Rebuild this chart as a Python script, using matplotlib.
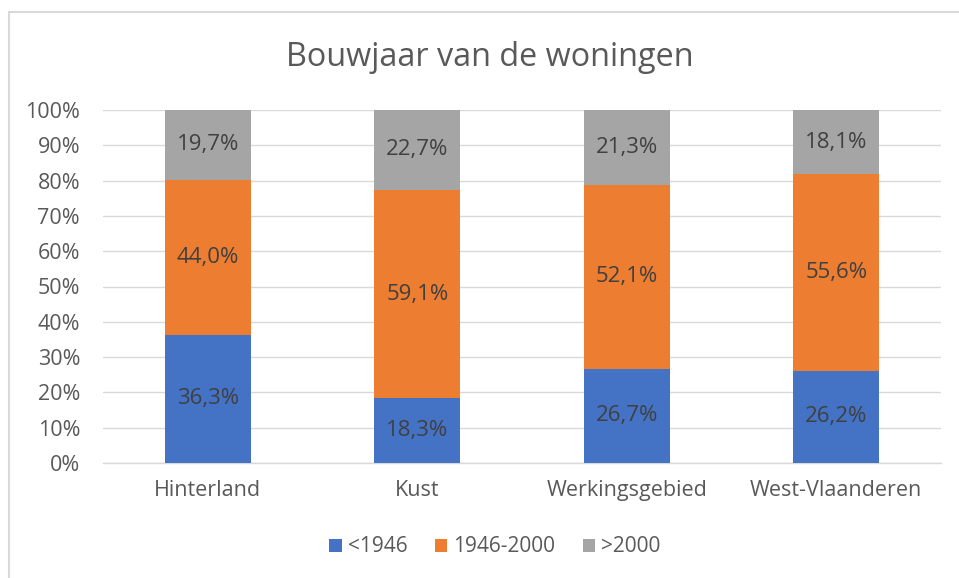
import matplotlib
matplotlib.use("Agg")
import matplotlib.pyplot as plt
from matplotlib.patches import Rectangle
from matplotlib.ticker import FuncFormatter

categories = ["Hinterland", "Kust", "Werkingsgebied", "West-Vlaanderen"]
series_names = ["<1946", "1946-2000", ">2000"]
pre1946 = [36.3, 18.3, 26.7, 26.2]
mid = [44.0, 59.1, 52.1, 55.6]
post2000 = [19.7, 22.7, 21.3, 18.1]
colors = ["#4472C4", "#ED7D31", "#A5A5A5"]

plt.rcParams['font.family'] = ['Open Sans', 'DejaVu Sans']
W, H = 959, 578
fig = plt.figure(figsize=(W/100, H/100), dpi=100)
fig.patches.append(Rectangle((8.5/W, -0.1), 1.2, 1 - 11.5/H + 0.1, transform=fig.transFigure,
                             fill=False, edgecolor="#D9D9D9", linewidth=1.5))
ax = fig.add_axes([103/W, 1 - 463/H, (941-103)/W, (463-110)/H])

x = range(len(categories))
bottom = [0]*len(categories)
for vals, name, c in zip([pre1946, mid, post2000], series_names, colors):
    ax.bar(x, vals, bottom=bottom, width=0.41, color=c, label=name, zorder=3)
    for xi, v, b in zip(x, vals, bottom):
        ax.text(xi, b + v/2, f"{v:.1f}%".replace(".", ","), ha="center", va="center",
                fontsize=16, color="#404040", zorder=4)
    bottom = [b + v for b, v in zip(bottom, vals)]

ax.set_ylim(0, 100)
ax.set_xlim(-0.5, 3.5)
ax.set_yticks(range(0, 101, 10))
ax.yaxis.set_major_formatter(FuncFormatter(lambda v, p: f"{int(v)}%"))
ax.grid(axis="y", color="#D9D9D9", linewidth=1, zorder=0)
for s in ["top", "right", "left"]:
    ax.spines[s].set_visible(False)
ax.spines["bottom"].set_color("#D9D9D9")
ax.spines["bottom"].set_linewidth(1)
ax.tick_params(axis="both", length=0, labelsize=15.5, labelcolor="#595959")
ax.tick_params(axis="y", pad=16.5)
ax.tick_params(axis="x", pad=12)
ax.set_xticks(list(x))
ax.set_xticklabels(categories)

fig.text(490/W, 1 - 57/H, "Bouwjaar van de woningen", ha="center", va="center",
         fontsize=23.3, color="#595959")
fig.legend(loc="center", bbox_to_anchor=(495/W, 1 - 547/H), ncol=3, frameon=False,
           fontsize=15, labelcolor="#595959", handlelength=0.6, handleheight=0.6,
           handletextpad=0.3, columnspacing=1.3)

fig.savefig("out.png", dpi=100)
